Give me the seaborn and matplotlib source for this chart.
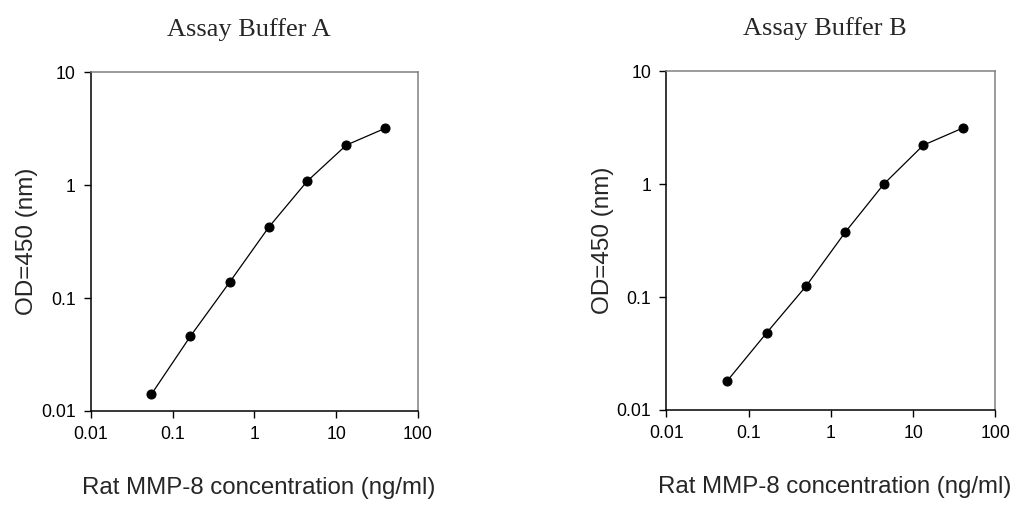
import numpy as np
import pandas as pd
import seaborn as sns
import matplotlib
matplotlib.use('Agg')
import matplotlib.pyplot as plt
from matplotlib.ticker import FixedLocator, FixedFormatter, NullLocator

# concentrations (ng/ml), 3-fold dilution series
conc = [0.055, 0.165, 0.5, 1.5, 4.4, 13.3, 40.0]
od_a = [0.0141, 0.046, 0.139, 0.425, 1.08, 2.26, 3.19]
od_b = [0.0181, 0.048, 0.125, 0.376, 1.00, 2.21, 3.13]
titles = ['Assay Buffer A', 'Assay Buffer B']

x_ticks = [0.01, 0.1, 1, 10, 100]
x_labels = ['0.01', '0.1', '1', '10', '100']
y_ticks = [0.01, 0.1, 1, 10]
y_labels = ['0.01', '0.1', '1', '10']

sns.set_style('ticks')
plt.rcParams['font.family'] = ['Liberation Sans', 'DejaVu Sans']

fig = plt.figure(figsize=(10.22, 5.08), dpi=100)
axes = [fig.add_axes([0.089, 0.191, 0.320, 0.667]),
        fig.add_axes([0.652, 0.193, 0.322, 0.667])]

for ax, od, title in zip(axes, [od_a, od_b], titles):
    df = pd.DataFrame({'conc': conc, 'od': od})
    sns.lineplot(data=df, x='conc', y='od', ax=ax, color='black', lw=0.9,
                 marker='o', markersize=6.5, markeredgecolor='black')
    ax.set_xscale('log')
    ax.set_yscale('log')
    ax.set_xlim(0.01, 100)
    ax.set_ylim(0.01, 10)
    ax.xaxis.set_major_locator(FixedLocator(x_ticks))
    ax.xaxis.set_major_formatter(FixedFormatter(x_labels))
    ax.yaxis.set_major_locator(FixedLocator(y_ticks))
    ax.yaxis.set_major_formatter(FixedFormatter(y_labels))
    ax.xaxis.set_minor_locator(NullLocator())
    ax.yaxis.set_minor_locator(NullLocator())
    ax.tick_params(direction='out', length=5, width=1, colors='black',
                   labelsize=12.7, pad=6)
    for s in ['left', 'bottom']:
        ax.spines[s].set_color('black')
        ax.spines[s].set_linewidth(1.1)
    for s in ['top', 'right']:
        ax.spines[s].set_visible(True)
        ax.spines[s].set_color('#808080')
        ax.spines[s].set_linewidth(1.1)
    ax.set_xlabel('Rat MMP-8 concentration (ng/ml)', fontsize=17.3)
    ax.xaxis.set_label_coords(0.512, -0.195)
    ax.set_ylabel('OD=450 (nm)', fontsize=17.5, labelpad=2)
    ax.set_title(title, fontsize=19, family='Liberation Serif', pad=26, x=0.482)

fig.savefig('out.png', dpi=100, facecolor='white')
